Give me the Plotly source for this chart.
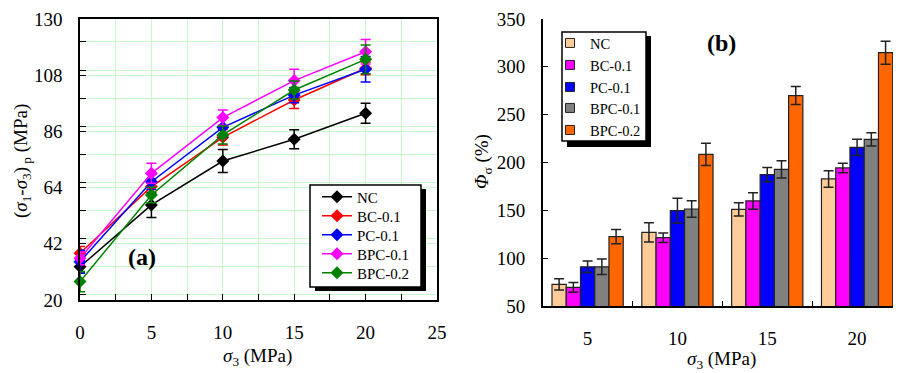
import plotly.graph_objects as go

W, H = 901, 373
OFF = 8  # page body margin offset
def px(x): return (x - OFF) / W
def py(y): return 1 - (y - OFF) / H

FONT = "'Liberation Serif', 'Times New Roman', Times, serif"

# ---------- data: panel (a) ----------
sigma3 = [0, 5, 10, 15, 20]
series_a = ["NC", "BC-0.1", "PC-0.1", "BPC-0.1", "BPC-0.2"]
colors_a = ["#000000", "#ff0000", "#0000ff", "#ff00ff", "#008000"]
NC = [33.0, 57.2, 74.4, 82.9, 93.1]
NC_err = [2.0, 4.9, 4.5, 3.7, 3.9]
BC = [38.3, 64.4, 83.7, 98.3, 110.7]
BC_err = [2.6, 3.0, 3.0, 3.3, 2.5]
PC = [35.0, 66.3, 87.6, 100.2, 110.3]
PC_err = [4.5, 3.0, 4.0, 3.0, 5.0]
BPC1 = [36.3, 69.6, 91.4, 105.9, 117.2]
BPC1_err = [2.5, 3.9, 3.0, 4.4, 4.8]
BPC2 = [27.2, 61.1, 84.6, 102.2, 114.2]
BPC2_err = [4.0, 3.0, 3.5, 3.5, 5.6]
vals_a = [NC, BC, PC, BPC1, BPC2]
errs_a = [NC_err, BC_err, PC_err, BPC1_err, BPC2_err]

# ---------- data: panel (b) ----------
cats_b = ["5", "10", "15", "20"]
colors_b = ["#ffcc99", "#ff00ff", "#0000ff", "#808080", "#ff6600"]
NC_b = [72.6, 127.0, 151.0, 182.8]
NC_b_err = [6.0, 10.0, 7.0, 8.7]
BC_b = [69.5, 121.4, 159.8, 194.3]
BC_b_err = [5.0, 5.0, 8.7, 5.0]
PC_b = [91.0, 149.7, 187.3, 215.9]
PC_b_err = [6.0, 13.0, 7.5, 8.5]
BPC1_b = [91.0, 151.4, 192.9, 224.2]
BPC1_b_err = [8.0, 8.5, 9.0, 7.0]
BPC2_b = [122.5, 208.5, 270.0, 314.8]
BPC2_b_err = [7.5, 11.7, 9.5, 12.0]
vals_b = [NC_b, BC_b, PC_b, BPC1_b, BPC2_b]
errs_b = [NC_b_err, BC_b_err, PC_b_err, BPC1_b_err, BPC2_b_err]

# legend entry centres (screen px)
leg_a_x, leg_a_y = 317, [197, 216, 235, 254, 273]
leg_b_x, leg_b_y = 550, [43, 65, 87, 108, 130]

fig = go.Figure()
legend_layouts = {}

for i, (name, c, v, e) in enumerate(zip(series_a, colors_a, vals_a, errs_a)):
    lid = "legend" if i == 0 else f"legend{i + 1}"
    fig.add_trace(go.Scatter(
        x=sigma3, y=v, name=name, mode="lines+markers",
        line=dict(color=c, width=1.5),
        marker=dict(symbol="diamond", size=10, color=c),
        error_y=dict(type="data", array=e, color=c, thickness=1.5, width=5),
        cliponaxis=False, xaxis="x", yaxis="y", legend=lid,
    ))
    legend_layouts[lid] = dict(
        x=px(leg_a_x), y=py(leg_a_y[i]), xanchor="left", yanchor="middle",
        bgcolor="rgba(0,0,0,0)", borderwidth=0,
        font=dict(family=FONT, size=15, color="black"))

for i, (name, c, v, e) in enumerate(zip(series_a, colors_b, vals_b, errs_b)):
    lid = f"legend{i + 6}"
    fig.add_trace(go.Bar(
        x=cats_b, y=v, name=name,
        marker=dict(color=c, line=dict(color="#222222", width=1.2)),
        error_y=dict(type="data", array=e, color="#222222", thickness=1.5, width=5),
        xaxis="x2", yaxis="y2", showlegend=False,
    ))
    fig.add_trace(go.Scatter(
        x=[None], y=[None], name=name, mode="markers",
        marker=dict(symbol="square", size=9, color=c, line=dict(color="#222222", width=1)),
        xaxis="x2", yaxis="y2", legend=lid,
    ))
    legend_layouts[lid] = dict(
        x=px(leg_b_x), y=py(leg_b_y[i]), xanchor="left", yanchor="middle",
        bgcolor="rgba(0,0,0,0)", borderwidth=0,
        font=dict(family=FONT, size=14.5, color="black"))

tickfont = dict(family=FONT, size=19, color="black")

shapes = [
    dict(type="rect", xref="paper", yref="paper", x0=px(315), x1=px(426), y0=py(291), y1=py(189),
         fillcolor="black", line=dict(width=0), layer="above"),
    dict(type="rect", xref="paper", yref="paper", x0=px(310), x1=px(421), y0=py(287), y1=py(185),
         fillcolor="white", line=dict(color="black", width=1.5), layer="above"),
    dict(type="rect", xref="paper", yref="paper", x0=px(567), x1=px(651), y0=py(147), y1=py(36),
         fillcolor="black", line=dict(width=0), layer="above"),
    dict(type="rect", xref="paper", yref="paper", x0=px(562), x1=px(646), y0=py(141), y1=py(32),
         fillcolor="white", line=dict(color="black", width=1.5), layer="above"),
]

def ann(text, x, y, size=19, angle=0):
    return dict(text=text, x=px(x), y=py(y), xref="paper", yref="paper", showarrow=False,
                xanchor="center", yanchor="middle", textangle=angle,
                font=dict(family=FONT, size=size, color="black"))

annotations = [
    ann("<b>(a)</b>", 142, 257, 24),
    ann("<b>(b)</b>", 721, 43, 24),
    ann("<i>σ</i><sub>3</sub> (MPa)", 258, 357),
    ann("<i>σ</i><sub>3</sub> (MPa)", 721, 360),
    ann("(<i>σ</i><sub>1</sub>-<i>σ</i><sub>3</sub>)<sub> p</sub> (MPa)", 22, 161, 19, -90),
    ann("<i>Φ</i><sub>σ</sub> (%)", 483, 162, 19, -90),
]

fig.update_layout(
    width=W, height=H, template="none",
    margin=dict(l=0, r=0, t=0, b=0),
    paper_bgcolor="white", plot_bgcolor="white",
    font=dict(family=FONT, color="black"),
    barmode="group", bargap=0.207, bargroupgap=0,
    xaxis=dict(domain=[px(80), px(437)], range=[0, 25], dtick=5, tick0=0,
               showline=True, linecolor="black", linewidth=1.5, mirror=True,
               ticks="inside", ticklen=6, tickcolor="black", tickwidth=1.2,
               showgrid=True, gridcolor="#c8f7c8", gridwidth=1,
               minor=dict(dtick=2.5, showgrid=True, gridcolor="#c8f7c8", ticks="inside",
                          ticklen=6, tickcolor="black"),
               tickfont=tickfont, ticklabelstandoff=14, zeroline=False, anchor="y"),
    yaxis=dict(domain=[py(300), py(19)], range=[20, 130], dtick=22, tick0=20,
               showline=True, linecolor="black", linewidth=1.5, mirror=True,
               ticks="inside", ticklen=6, tickcolor="black", tickwidth=1.2,
               showgrid=True, gridcolor="#c8f7c8", gridwidth=1,
               minor=dict(dtick=11, showgrid=True, gridcolor="#c8f7c8", ticks="inside",
                          ticklen=6, tickcolor="black"),
               tickfont=tickfont, ticklabelstandoff=12, zeroline=False, anchor="x"),
    xaxis2=dict(domain=[px(542.7), min(1.0, px(902))], type="category", range=[-0.5, 3.5],
                showline=True, linecolor="black", linewidth=1.5,
                ticks="inside", tickson="boundaries", ticklen=5, tickcolor="black", tickwidth=1.2,
                showgrid=False, tickfont=tickfont, ticklabelstandoff=14, anchor="y2"),
    yaxis2=dict(domain=[py(306), py(19)], range=[50, 350], dtick=50, tick0=50,
                showline=True, linecolor="black", linewidth=1.5, mirror=True,
                ticks="inside", ticklen=6, tickcolor="black", tickwidth=1.2,
                showgrid=False, zeroline=False,
                tickfont=tickfont, ticklabelstandoff=12, anchor="x2"),
    shapes=shapes, annotations=annotations, showlegend=True,
    **legend_layouts,
)

fig.write_html("out.html")
